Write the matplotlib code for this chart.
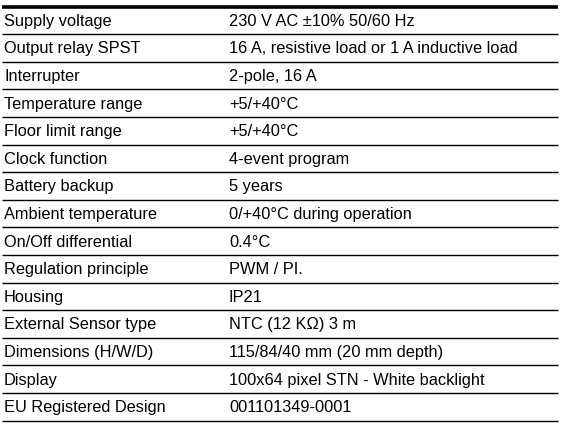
import matplotlib
matplotlib.use("Agg")
import matplotlib.pyplot as plt

params = ["Supply voltage", "Output relay SPST", "Interrupter", "Temperature range",
          "Floor limit range", "Clock function", "Battery backup", "Ambient temperature",
          "On/Off differential", "Regulation principle", "Housing", "External Sensor type",
          "Dimensions (H/W/D)", "Display", "EU Registered Design"]
values = ["230 V AC ±10% 50/60 Hz", "16 A, resistive load or 1 A inductive load",
          "2-pole, 16 A", "+5/+40°C", "+5/+40°C", "4-event program", "5 years",
          "0/+40°C during operation", "0.4°C", "PWM / PI.", "IP21",
          "NTC (12 KΩ) 3 m", "115/84/40 mm (20 mm depth)",
          "100x64 pixel STN - White backlight", "001101349-0001"]

W, H = 566, 433
fig = plt.figure(figsize=(W/100, H/100), dpi=100)
ax = fig.add_axes([0, 0, 1, 1])
ax.set_xlim(0, W); ax.set_ylim(H, 0); ax.axis("off")

top, bottom = 6.5, 420.5
n = len(params)
rh = (bottom - top) / n
x0, x1 = 2, 558
ax.plot([x0, x1], [top, top], color="black", lw=2.6, solid_capstyle="butt")
for i, (p, v) in enumerate(zip(params, values)):
    yc = top + rh * (i + 0.5) + 1
    ax.text(4, yc, p, fontsize=11.8, family="Liberation Sans", va="center", ha="left")
    ax.text(229, yc, v, fontsize=11.8, family="Liberation Sans", va="center", ha="left")
    yl = top + rh * (i + 1)
    ax.plot([x0, x1], [yl, yl], color="black", lw=1.0, solid_capstyle="butt")

fig.savefig("out.png", dpi=100)
